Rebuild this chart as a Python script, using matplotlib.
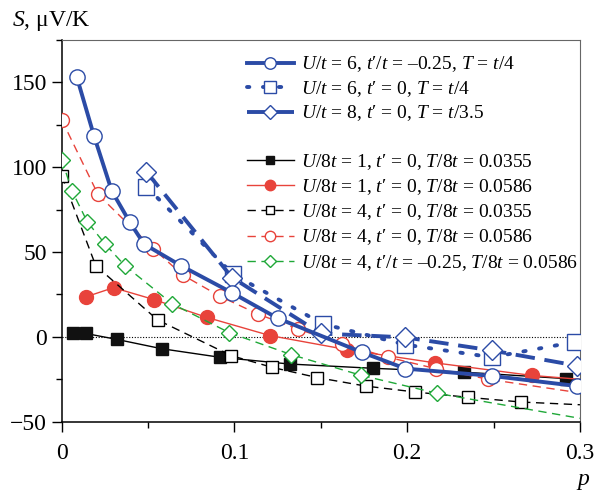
import matplotlib
matplotlib.use("Agg")
import matplotlib.pyplot as plt
from matplotlib.ticker import MultipleLocator

plt.rcParams['font.family'] = ['Liberation Serif', 'DejaVu Serif']
plt.rcParams['mathtext.fontset'] = 'custom'
plt.rcParams['mathtext.rm'] = 'Liberation Serif'
plt.rcParams['mathtext.it'] = 'Liberation Serif:italic'

BLUE = '#2b4ba6'
RED = '#e8433b'
GREEN = '#1fa838'

# U/t=6, t'/t=-0.25, T=t/4
p_u6_tp = [0.0088, 0.0187, 0.029, 0.0395, 0.0477, 0.069, 0.0986, 0.125, 0.1736, 0.199, 0.249, 0.2985]
s_u6_tp = [153, 118.5, 86, 67.5, 54.7, 42, 26, 11, -9, -18.7, -23, -29]
# U/t=6, t'=0, T=t/4
p_u6 = [0.049, 0.099, 0.151, 0.199, 0.249, 0.297]
s_u6 = [88.6, 37, 7.7, -4.6, -12, -3]
# U/t=8, t'=0, T=t/3.5
p_u8 = [0.049, 0.0986, 0.150, 0.199, 0.249, 0.2985]
s_u8 = [97.4, 35, 2, -0.3, -8, -17]
# U/8t=1, T/8t=0.0355 (last value = end of curve)
p_a = [0.0067, 0.014, 0.032, 0.058, 0.0915, 0.132, 0.180, 0.233, 0.292, 0.3]
s_a = [2, 2, -1.5, -7, -12, -16, -18.5, -20.8, -24.6, -25.5]
# U/8t=1, T/8t=0.0586
p_b = [0.014, 0.030, 0.0534, 0.084, 0.1205, 0.165, 0.216, 0.272, 0.3]
s_b = [23.6, 29, 22, 11.5, 0.8, -7.5, -15.3, -22.7, -25]
# U/8t=4, T/8t=0.0355
p_c = [0.0, 0.0197, 0.0555, 0.098, 0.122, 0.148, 0.176, 0.2047, 0.235, 0.266, 0.3]
s_c = [95, 42, 10, -11, -18, -24, -29, -32.5, -35.6, -38.4, -40]
# U/8t=4, T/8t=0.0586
p_d = [0.0, 0.021, 0.053, 0.070, 0.0915, 0.1135, 0.137, 0.162, 0.189, 0.2165, 0.247, 0.3]
s_d = [128, 84, 52, 36.5, 24, 13.5, 4.5, -4, -12, -18.7, -25, -33]
# U/8t=4, t'/t=-0.25, T/8t=0.0586
p_e = [0.0, 0.006, 0.0147, 0.0252, 0.0366, 0.064, 0.097, 0.133, 0.1735, 0.2175, 0.3]
s_e = [104.5, 86, 68, 54.6, 42, 19.5, 2.5, -10.5, -22.7, -33.3, -48]

fig = plt.figure(figsize=(5.96, 4.93), dpi=100)
ax = fig.add_axes([0.1035, 0.1446, 0.8695, 0.7743])

ax.axhline(0, color='black', lw=0.8, ls=(0, (1, 1.5)), zorder=1)

h1, = ax.plot(p_u6_tp, s_u6_tp, color=BLUE, lw=2.8, marker='o', ms=11, mfc='white', mec=BLUE, mew=1.0,
              label=r"$U/t$ = 6, $t$′/$t$ = –0.25, $T$ = $t$/4", zorder=5)
h2, = ax.plot(p_u6, s_u6, color=BLUE, lw=2.8, ls=(0, (0.6, 3.5)), dash_capstyle='round', marker='s', ms=11,
              mfc='white', mec=BLUE, mew=1.0, label=r"$U/t$ = 6, $t$′ = 0, $T$ = $t$/4", zorder=4)
h3, = ax.plot(p_u8, s_u8, color=BLUE, lw=2.8, ls=(0, (5, 2.5)), marker='D', ms=10, mfc='white', mec=BLUE,
              mew=1.0, label=r"$U/t$ = 8, $t$′ = 0, $T$ = $t$/3.5", zorder=4)

h4, = ax.plot(p_a, s_a, color='black', lw=1.0, marker='s', ms=8.5, mfc='#111111', mec='#111111',
              markevery=list(range(len(p_a) - 1)), label=r"$U/8t$ = 1, $t$′ = 0, $T/8t$ = 0.0355", zorder=3)
h5, = ax.plot(p_b, s_b, color=RED, lw=1.0, marker='o', ms=10, mfc=RED, mec=RED,
              markevery=list(range(len(p_b) - 1)), label=r"$U/8t$ = 1, $t$′ = 0, $T/8t$ = 0.0586", zorder=3)
h6, = ax.plot(p_c, s_c, color='black', lw=1.0, ls=(0, (6, 4)), marker='s', ms=8.5, mfc='white', mec='black',
              mew=1.0, markevery=list(range(len(p_c) - 1)),
              label=r"$U/8t$ = 4, $t$′ = 0, $T/8t$ = 0.0355", zorder=3)
h7, = ax.plot(p_d, s_d, color=RED, lw=1.0, ls=(0, (6, 4)), marker='o', ms=10, mfc='white', mec=RED,
              mew=1.0, markevery=list(range(len(p_d) - 1)),
              label=r"$U/8t$ = 4, $t$′ = 0, $T/8t$ = 0.0586", zorder=3)
h8, = ax.plot(p_e, s_e, color=GREEN, lw=1.0, ls=(0, (6, 4)), marker='D', ms=8, mfc='white', mec=GREEN,
              mew=1.0, markevery=list(range(len(p_e) - 1)),
              label=r"$U/8t$ = 4, $t$′/$t$ = –0.25, $T/8t$ = 0.0586", zorder=3)

ax.set_xlim(0, 0.3)
ax.set_ylim(-50, 175)
ax.xaxis.set_minor_locator(MultipleLocator(0.05))
ax.yaxis.set_minor_locator(MultipleLocator(25))
ax.set_xticks([0, 0.1, 0.2, 0.3])
ax.set_xticklabels(['0', '0.1', '0.2', '0.3'])
ax.set_yticks([-50, 0, 50, 100, 150])
ax.set_yticklabels(['−50', '0', '50', '100', '150'])
ax.tick_params(which='major', length=7, width=1, labelsize=17, direction='out')
ax.tick_params(which='minor', length=4, width=1, direction='out')
ax.tick_params(axis='x', pad=8)

for side in ['top', 'right']:
    ax.spines[side].set_color('#666666')
for side in ['left', 'bottom']:
    ax.spines[side].set_linewidth(1.1)

leg_kw = dict(frameon=False, fontsize=14, loc='upper left', borderpad=0, borderaxespad=0,
              handlelength=2.4, handletextpad=0.4, markerscale=0.75)
leg1 = ax.legend(handles=[h1, h2, h3], bbox_to_anchor=(0.3575, 0.962), labelspacing=0.24, **leg_kw)
ax.add_artist(leg1)
ax.legend(handles=[h4, h5, h6, h7, h8], bbox_to_anchor=(0.3575, 0.707), labelspacing=0.28, **leg_kw)

fig.text(0.02, 0.958, r"$S$, μV/K", fontsize=17, va='center', ha='left')
fig.text(0.978, 0.024, r"$p$", fontsize=17, va='center', ha='center')

fig.savefig('out.png', dpi=100)
